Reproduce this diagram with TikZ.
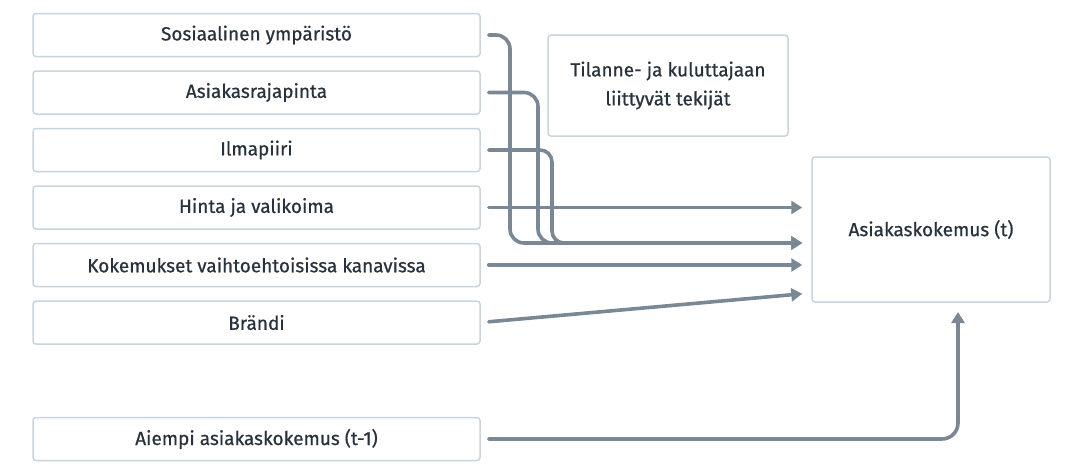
\documentclass[tikz,border=0pt]{standalone}
\usepackage{fontspec}
\setmainfont{Fira Sans}[FakeBold=0.6]
\usetikzlibrary{arrows.meta,calc}
\definecolor{linec}{HTML}{7A8896}
\definecolor{boxc}{HTML}{C9D4DE}
\definecolor{textc}{HTML}{28323C}
\tikzset{
  factor/.style={draw=boxc, line width=1.5pt, rounded corners=3pt, fill=white,
    minimum width=447pt, minimum height=43pt, inner sep=0pt, text=textc,
    font=\fontsize{19}{23}\selectfont},
  bigbox/.style={draw=boxc, line width=1.5pt, rounded corners=3pt, fill=white,
    inner sep=0pt, text=textc, align=center, font=\fontsize{19}{29}\selectfont},
  conn/.style={draw=linec, line width=3.6pt, line cap=round,
    -{Triangle[length=11pt,width=13pt]}, shorten <=8pt, shorten >=9pt},
}
\begin{document}
\begin{tikzpicture}[x=1pt,y=1pt]
\useasboundingbox (0,0) rectangle (1071,-469);
% left factor boxes
\node[factor] (b1) at (256.5,-35) {Sosiaalinen ympäristö};
\node[factor] (b2) at (256.5,-92.5) {Asiakasrajapinta};
\node[factor] (b3) at (256.5,-150) {Ilmapiiri};
\node[factor] (b4) at (256.5,-207.5) {Hinta ja valikoima};
\node[factor] (b5) at (256.5,-265) {Kokemukset vaihtoehtoisissa kanavissa};
\node[factor] (b6) at (256.5,-322.5) {Brändi};
\node[factor] (b7) at (256.5,-439) {Aiempi asiakaskokemus (t-1)};
% group label box
\node[bigbox, minimum width=240pt, minimum height=101pt] (grp) at (668,-85.5)
  {Tilanne- ja kuluttajaan\\liittyvät tekijät};
% target box
\node[bigbox, minimum width=238pt, minimum height=145pt] (tgt) at (931,-229.5)
  {Asiakaskokemus (t)};
% connector end points
\coordinate (m) at (tgt.west |- 0,-243);
\coordinate (br) at (tgt.west |- 0,-293);
\coordinate (up) at (958,-302);
% connectors
\draw[conn, rounded corners=14pt] (b1.east) -| (510,-243) -- (m);
\draw[conn, rounded corners=14pt] (b2.east) -| (538,-243) -- (m);
\draw[conn, rounded corners=12pt] (b3.east) -| (552,-243) -- (m);
\draw[conn] (b4.east) -- (tgt.west |- b4.east);
\draw[conn] (b5.east) -- (tgt.west |- b5.east);
\draw[conn] (b6.east) -- (br);
\draw[conn, rounded corners=16pt, shorten >=10pt] (b7.east) -| (up);
\end{tikzpicture}
\end{document}
